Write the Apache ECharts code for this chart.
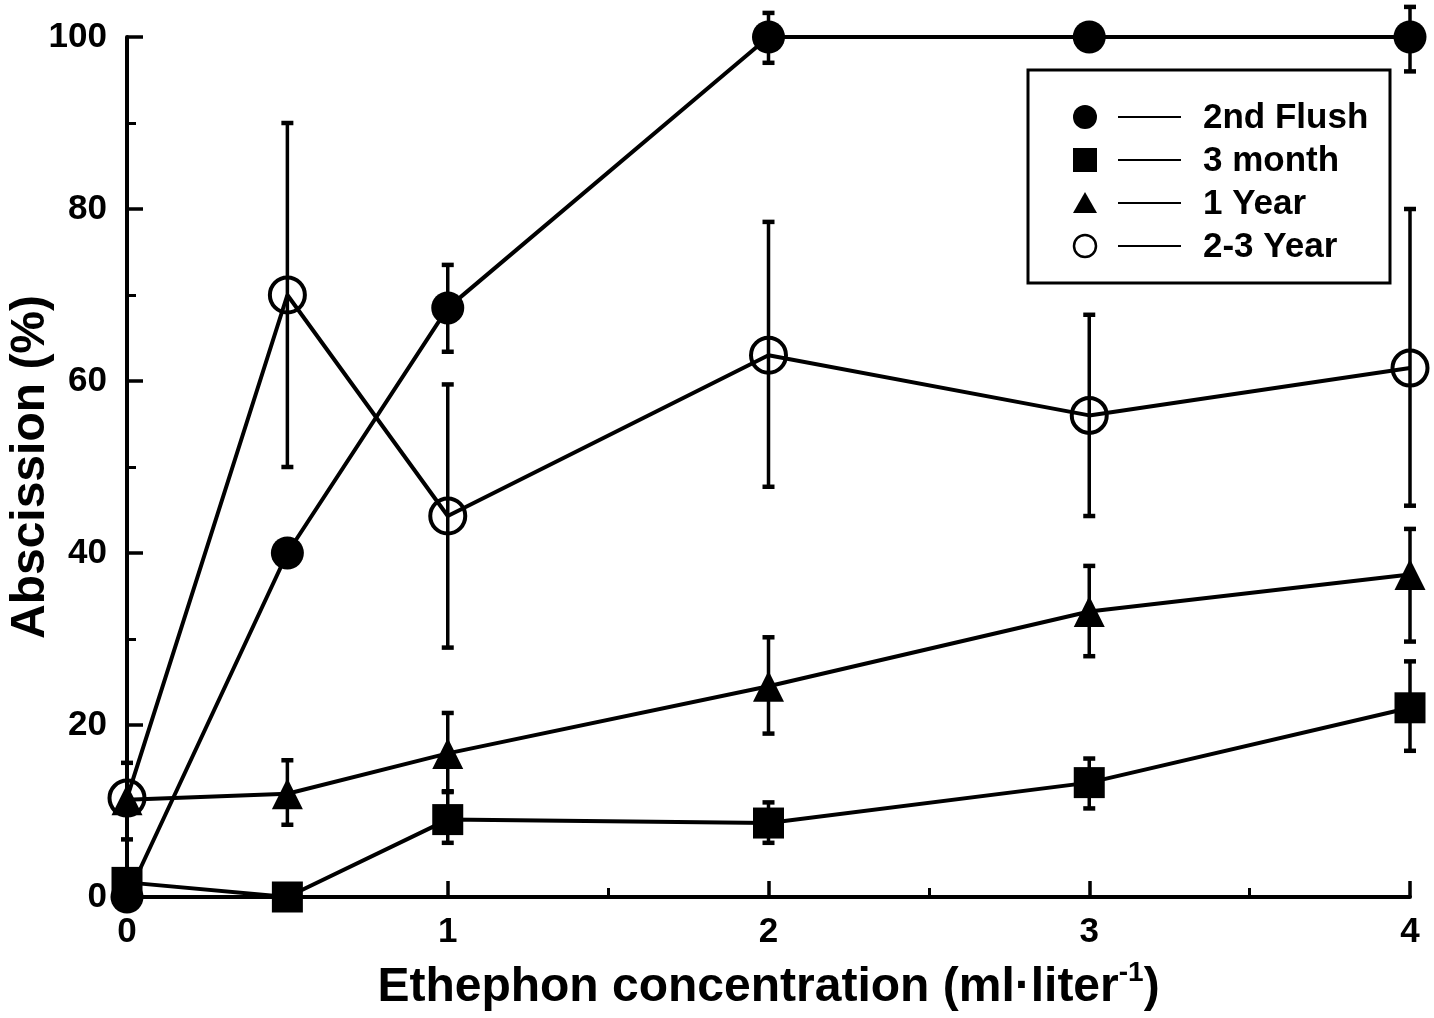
<!DOCTYPE html>
<html>
<head>
<meta charset="utf-8">
<script src="https://cdn.jsdelivr.net/npm/echarts@6/dist/echarts.min.js"></script>
<style>html,body{margin:0;padding:0;background:#fff}#c{width:1434px;height:1018px}</style>
</head>
<body>
<div id="c"></div>
<script>
// ---- data ----
const xValues = [0, 0.5, 1, 2, 3, 4];
const seriesNames = ['2nd Flush', '3 month', '1 Year', '2-3 Year'];

const flushMean = [0, 40, 68.5, 100, 100, 100];
const flushLow  = [null, null, 63.4, 97, null, 96];
const flushHigh = [null, null, 73.5, 102.8, null, 103.5];

const monthMean = [1.7, 0, 9, 8.6, 13.3, 22];
const monthLow  = [null, null, 6.3, 6.3, 10.3, 17];
const monthHigh = [null, null, 12.3, 11, 16.1, 27.4];

const yearMean = [11.3, 12, 16.7, 24.5, 33.2, 37.5];
const yearLow  = [null, 8.4, 12.2, 19, 28, 29.7];
const yearHigh = [null, 15.9, 21.4, 30.2, 38.5, 42.8];

const year23Mean = [11.5, 70, 44.3, 63, 56, 61.5];
const year23Low  = [6.7, 50, 29, 47.7, 44.3, 45.5];
const year23High = [15.6, 90, 59.6, 78.5, 67.7, 80];

const xTicks = [0, 1, 2, 3, 4];
const yTicks = [0, 20, 40, 60, 80, 100];

// ---- build ----
const FONT = '"Liberation Sans", Arial, Helvetica, sans-serif';
function pts(mean) { return xValues.map((x, i) => [x, mean[i]]); }
function errs(low, high) {
  const out = [];
  xValues.forEach((x, i) => { if (low[i] != null && high[i] != null) out.push([x, low[i], high[i]]); });
  return out;
}
function errSeries(low, high) {
  return {
    type: 'custom',
    z: 2,
    silent: true,
    data: errs(low, high),
    encode: { x: 0, y: [1, 2] },
    renderItem: function (params, api) {
      const x = api.value(0);
      const lo = api.coord([x, api.value(1)]);
      const hi = api.coord([x, api.value(2)]);
      const cw = 6;
      const st = { stroke: '#000', lineWidth: 3.5 };
      return {
        type: 'group',
        children: [
          { type: 'line', shape: { x1: lo[0], y1: lo[1], x2: hi[0], y2: hi[1] }, style: st },
          { type: 'line', shape: { x1: lo[0] - cw, y1: lo[1], x2: lo[0] + cw, y2: lo[1] }, style: { stroke: '#000', lineWidth: 4.5 } },
          { type: 'line', shape: { x1: hi[0] - cw, y1: hi[1], x2: hi[0] + cw, y2: hi[1] }, style: { stroke: '#000', lineWidth: 4.5 } }
        ]
      };
    }
  };
}
function lineSeries(name, mean, symbol, size, filled) {
  return {
    name: name,
    type: 'line',
    z: 3,
    data: pts(mean),
    symbol: symbol,
    symbolSize: size,
    showAllSymbol: true,
    lineStyle: { color: '#000', width: 4 },
    itemStyle: filled ? { color: '#000', borderWidth: 0 } : { color: 'rgba(0,0,0,0)', borderColor: '#000', borderWidth: 4 },
    emphasis: { disabled: true },
    animation: false
  };
}

const legendX = 1085, rows = [117, 160, 203, 246];
const legendGraphics = [
  { type: 'rect', shape: { x: 1028, y: 70, width: 362, height: 213 }, style: { fill: '#fff', stroke: '#000', lineWidth: 3 }, z: 10 },
  { type: 'circle', shape: { cx: legendX, cy: rows[0], r: 12 }, style: { fill: '#000' }, z: 11 },
  { type: 'rect', shape: { x: legendX - 12, y: rows[1] - 12, width: 24, height: 24 }, style: { fill: '#000' }, z: 11 },
  { type: 'polygon', shape: { points: [[legendX, rows[2] - 11], [legendX - 12, rows[2] + 10], [legendX + 12, rows[2] + 10]] }, style: { fill: '#000' }, z: 11 },
  { type: 'circle', shape: { cx: legendX, cy: rows[3], r: 11 }, style: { fill: 'none', stroke: '#000', lineWidth: 2.5 }, z: 11 }
];
rows.forEach((y, i) => {
  legendGraphics.push({ type: 'line', shape: { x1: 1118, y1: y, x2: 1181, y2: y }, style: { stroke: '#000', lineWidth: 2 }, z: 11 });
  legendGraphics.push({ type: 'text', x: 1203, y: y + 1, style: { text: seriesNames[i], font: 'bold 35px ' + FONT, fill: '#000', verticalAlign: 'middle', textAlign: 'left' }, z: 11 });
});

const option = {
  animation: false,
  backgroundColor: '#fff',
  grid: { left: 127, right: 24, top: 37, bottom: 121, containLabel: false, outerBoundsMode: 'none' },
  xAxis: {
    type: 'value', min: 0, max: 4, interval: 1,
    name: 'Ethephon concentration (ml·liter{sup|-1})',
    nameLocation: 'middle', nameGap: 62, nameMoveOverlap: false,
    nameTextStyle: { fontFamily: FONT, fontWeight: 'bold', fontSize: 48, color: '#000',
      rich: { sup: { fontFamily: FONT, fontWeight: 'bold', fontSize: 28, verticalAlign: 'top', padding: [0, 0, 30, 0] } } },
    axisLine: { lineStyle: { color: '#000', width: 4 } },
    axisTick: { inside: true, length: 16, lineStyle: { color: '#000', width: 3.5 } },
    minorTick: { show: true, splitNumber: 2, length: 9, lineStyle: { color: '#000', width: 3 } },
    splitLine: { show: false },
    axisLabel: { margin: 18, fontFamily: FONT, fontWeight: 'bold', fontSize: 35, color: '#000',
      formatter: v => xTicks.includes(v) ? String(v) : '' }
  },
  yAxis: {
    type: 'value', min: 0, max: 100, interval: 20,
    name: 'Abscission (%)',
    nameLocation: 'middle', nameGap: 72, nameMoveOverlap: false,
    nameTextStyle: { fontFamily: FONT, fontWeight: 'bold', fontSize: 48, color: '#000' },
    axisLine: { lineStyle: { color: '#000', width: 4 } },
    axisTick: { inside: true, length: 16, lineStyle: { color: '#000', width: 3.5 } },
    minorTick: { show: true, splitNumber: 2, length: 9, lineStyle: { color: '#000', width: 3 } },
    splitLine: { show: false },
    axisLabel: { margin: 20, fontFamily: FONT, fontWeight: 'bold', fontSize: 35, color: '#000',
      formatter: v => yTicks.includes(v) ? String(v) : '' }
  },
  graphic: legendGraphics,
  series: [
    errSeries(flushLow, flushHigh),
    errSeries(monthLow, monthHigh),
    errSeries(yearLow, yearHigh),
    errSeries(year23Low, year23High),
    lineSeries(seriesNames[0], flushMean, 'circle', 33, true),
    lineSeries(seriesNames[1], monthMean, 'rect', 31, true),
    lineSeries(seriesNames[2], yearMean, 'triangle', 31, true),
    lineSeries(seriesNames[3], year23Mean, 'circle', 35, false)
  ]
};
const chart = echarts.init(document.getElementById('c'), null, { renderer: 'canvas' });
chart.setOption(option);
</script>
</body>
</html>
